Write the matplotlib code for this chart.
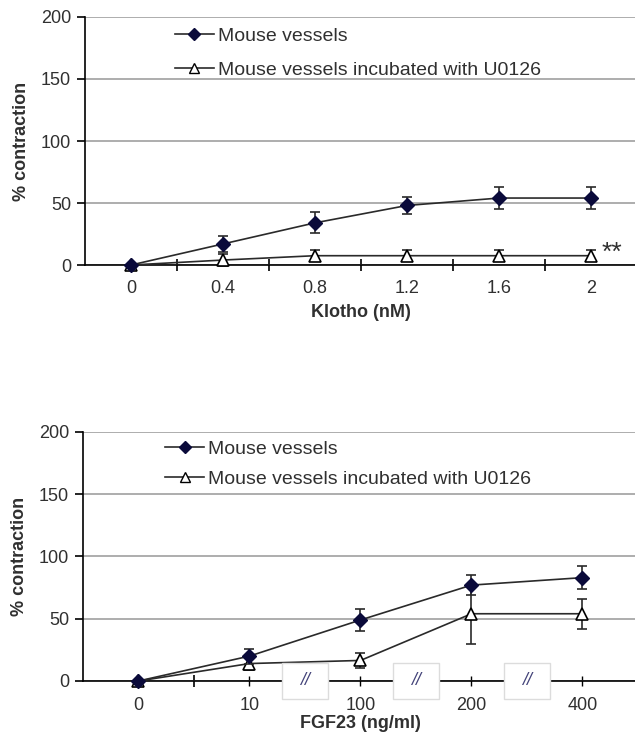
import matplotlib
matplotlib.use("Agg")
import matplotlib.pyplot as plt
from matplotlib.lines import Line2D
from matplotlib.patches import Rectangle

plt.rcParams['font.family'] = ['Liberation Sans', 'DejaVu Sans']

# Klotho dose-response
klotho_labels = ["0", "0.4", "0.8", "1.2", "1.6", "2"]
klotho_ctrl = [0, 17, 34, 48, 54, 54]
klotho_ctrl_err = [0, 6.5, 8.5, 7, 9, 9]
klotho_u0126 = [0, 4, 7.5, 7.5, 7.5, 7.5]
klotho_u0126_err = [0, 5, 4.5, 4.5, 4.5, 4.5]

# FGF23 dose-response
fgf_labels = ["0", "10", "100", "200", "400"]
fgf_ctrl = [0, 20, 49, 77, 83]
fgf_ctrl_err = [0, 6, 9, 8, 9]
fgf_u0126 = [0, 14, 16.5, 54, 54]
fgf_u0126_err = [0, 5.5, 6, 24, 12]

series_names = ["Mouse vessels", "Mouse vessels incubated with U0126"]

TXT = "#303030"
FS = 13
LFS = 14

fig = plt.figure(figsize=(6.35, 7.39), dpi=100)
ax1 = fig.add_axes([0.134, 0.6414, 0.869, 0.3356])
ax2 = fig.add_axes([0.1307, 0.0785, 0.874, 0.337])


def style_axes(ax, labels, xlabel, tick_pad, label_pad):
    n = len(labels)
    ax.set_xlim(-0.5, n - 0.5)
    ax.set_ylim(0, 200)
    ax.set_yticks([0, 50, 100, 150, 200])
    ax.yaxis.grid(True, color="#a0a0a0", linewidth=1.2)
    ax.set_axisbelow(True)
    for s in ("top", "right"):
        ax.spines[s].set_visible(False)
    for s in ("left", "bottom"):
        ax.spines[s].set_linewidth(1.2)
        ax.spines[s].set_color("black")
    ax.spines["bottom"].set_zorder(2.5)
    ax.set_xticks(range(n))
    ax.set_xticklabels(labels)
    ax.tick_params(axis="y", direction="out", length=6, width=1.2,
                   labelsize=FS, labelcolor=TXT, pad=4)
    ax.tick_params(axis="x", which="major", length=0, labelsize=FS,
                   labelcolor=TXT, pad=tick_pad)
    ax.set_ylabel("% contraction", fontsize=FS, fontweight="bold",
                  color=TXT, labelpad=8)
    ax.set_xlabel(xlabel, fontsize=FS, fontweight="bold", color=TXT,
                  labelpad=label_pad)


def draw_series(ax, ctrl, ctrl_err, u0126, u0126_err):
    x = list(range(len(ctrl)))
    ax.errorbar(x, u0126, yerr=u0126_err, color="#2a2a2a", linewidth=1.2,
                marker="^", markersize=8.5, markerfacecolor="white",
                markeredgecolor="black", markeredgewidth=1.2,
                ecolor="#2a2a2a", elinewidth=1.2, capsize=3.5, capthick=1.2,
                zorder=4, clip_on=False)
    ax.errorbar(x, ctrl, yerr=ctrl_err, color="#2a2a2a", linewidth=1.2,
                marker="D", markersize=7.5, markerfacecolor="#0a0a3a",
                markeredgecolor="#0a0a3a",
                ecolor="#2a2a2a", elinewidth=1.2, capsize=3.5, capthick=1.2,
                zorder=5, clip_on=False)


def add_legend(ax, anchor, spacing):
    handles = [
        Line2D([], [], color="#2a2a2a", linewidth=1.2, marker="D",
               markersize=6.5, markerfacecolor="#0a0a3a",
               markeredgecolor="#0a0a3a"),
        Line2D([], [], color="#2a2a2a", linewidth=1.2, marker="^",
               markersize=7.5, markerfacecolor="white",
               markeredgecolor="black"),
    ]
    leg = ax.legend(handles, series_names, loc="upper left",
                    bbox_to_anchor=anchor, frameon=False, fontsize=LFS,
                    handlelength=2.0, handletextpad=0.2,
                    labelspacing=spacing, borderaxespad=0, borderpad=0)
    for t in leg.get_texts():
        t.set_color(TXT)


# Upper panel: Klotho
style_axes(ax1, klotho_labels, "Klotho (nM)", 11, 5)
ax1.set_xticks([i + 0.5 for i in range(len(klotho_labels) - 1)], minor=True)
ax1.tick_params(axis="x", which="minor", direction="inout", length=9,
                width=1.2)
draw_series(ax1, klotho_ctrl, klotho_ctrl_err, klotho_u0126,
            klotho_u0126_err)
ax1.text(len(klotho_labels) - 1 + 0.12, klotho_u0126[-1] + 2, "**",
         fontsize=19, color=TXT, ha="left", va="center")
add_legend(ax1, (0.163, 0.96), 0.85)

# Lower panel: FGF23 with axis breaks
style_axes(ax2, fgf_labels, "FGF23 (ng/ml)", 8, 1)
ax2.set_xticks([0.5, 1.5, 2.5, 3.5], minor=True)
ax2.tick_params(axis="x", which="minor", direction="inout", length=9,
                width=1.2)
ax2.tick_params(axis="x", which="major", direction="inout", length=7,
                width=1.0)
draw_series(ax2, fgf_ctrl, fgf_ctrl_err, fgf_u0126, fgf_u0126_err)
for bx in (1.5, 2.5, 3.5):
    ax2.add_patch(Rectangle((bx - 0.205, -14.5), 0.41, 29,
                            facecolor="white", edgecolor="#dcdcdc",
                            linewidth=1.0, zorder=6, clip_on=False))
    ax2.text(bx, 0, "//", fontsize=13, style="italic", color="#44447a",
             ha="center", va="center", zorder=7)
add_legend(ax2, (0.148, 0.965), 0.6)

fig.savefig("out.png", dpi=100)
